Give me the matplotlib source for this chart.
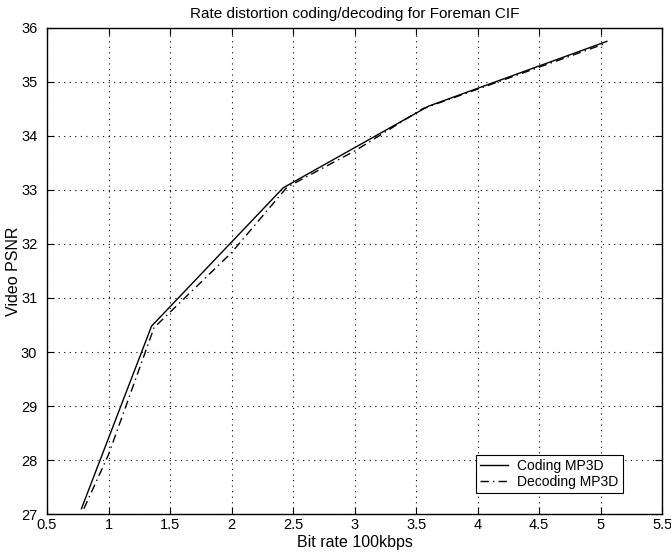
import matplotlib
matplotlib.use("Agg")
import matplotlib.pyplot as plt
import numpy as np

plt.rcParams['font.family'] = ['Liberation Sans', 'DejaVu Sans']

# rate (100 kbps) vs PSNR
coding_rate = [0.78, 1.35, 2.42, 3.60, 5.05]
coding_psnr = [27.10, 30.48, 33.04, 34.55, 35.75]

decoding_rate = [0.80, 1.00, 1.37, 2.00, 2.45, 3.00, 3.55, 5.05]
decoding_psnr = [27.10, 28.10, 30.45, 31.84, 33.05, 33.72, 34.50, 35.72]

xticks = [0.5, 1, 1.5, 2, 2.5, 3, 3.5, 4, 4.5, 5, 5.5]
yticks = [27, 28, 29, 30, 31, 32, 33, 34, 35, 36]

fig = plt.figure(figsize=(6.71, 5.57), dpi=100)
ax = fig.add_axes([0.070, 0.077, 0.917, 0.873])

ax.plot(coding_rate, coding_psnr, color='black', lw=1.0, label='Coding MP3D')
ax.plot(decoding_rate, decoding_psnr, color='black', lw=1.0, ls='-.',
        dashes=(6, 3, 1, 3), label='Decoding MP3D')

ax.set_xlim(0.5, 5.5)
ax.set_ylim(27, 36)
ax.set_xticks(xticks)
ax.set_xticklabels([('%g' % v) for v in xticks])
ax.set_yticks(yticks)
ax.tick_params(direction='in', top=True, right=True, length=5, labelsize=10.5,
               colors='black')
ax.tick_params(axis='x', pad=3)
ax.tick_params(axis='y', pad=7)
ax.grid(True, color='black', ls=(0, (1, 4)), lw=0.8)
for s in ax.spines.values():
    s.set_linewidth(1.0)
    s.set_color('black')

ax.set_title('Rate distortion coding/decoding for Foreman CIF', fontsize=11, pad=7)
ax.set_xlabel('Bit rate 100kbps', fontsize=11.5, labelpad=2)
ax.set_ylabel('Video PSNR', fontsize=11.5)
ax.yaxis.set_label_coords(-0.043, 0.5)

leg = ax.legend(loc='lower right', bbox_to_anchor=(0.936, 0.043), fontsize=10,
                frameon=True, fancybox=False, edgecolor='black', framealpha=1,
                handlelength=2.0, borderpad=0.3, labelspacing=0.15,
                handletextpad=0.7, borderaxespad=0)
leg.get_frame().set_linewidth(0.8)

fig.savefig('out.png', dpi=100)
